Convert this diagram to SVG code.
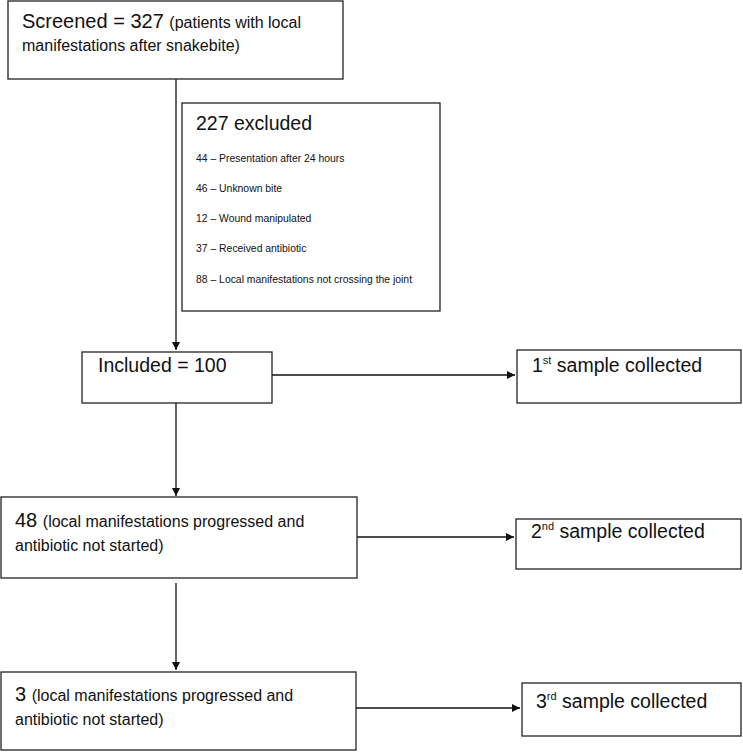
<svg xmlns="http://www.w3.org/2000/svg" width="743" height="753" viewBox="0 0 743 753">
<style>
.box{fill:#fff;stroke:#222;stroke-width:1.3}
.t{font-family:"Liberation Sans",Arial,sans-serif;fill:#111}
.big{font-size:20px}
.med{font-size:16px}
.sm{font-size:10.4px}
.hd{font-size:19.5px}
.sup{font-size:11px}
.ln{stroke:#111;stroke-width:1.3;fill:none}
</style>
<defs>
<marker id="ah" viewBox="0 0 10 10" refX="10" refY="5" markerWidth="8" markerHeight="8" markerUnits="userSpaceOnUse" orient="auto">
<path d="M0,0 L10,5 L0,10 Z" fill="#111"/>
</marker>
</defs>
<rect width="743" height="753" fill="#fff"/>
<g id="connectors">
<line class="ln" x1="176" y1="79" x2="176" y2="350" marker-end="url(#ah)"/>
<line class="ln" x1="176" y1="403" x2="176" y2="496" marker-end="url(#ah)"/>
<line class="ln" x1="176" y1="583" x2="176" y2="670" marker-end="url(#ah)"/>
<line class="ln" x1="272" y1="375" x2="515" y2="375" marker-end="url(#ah)"/>
<line class="ln" x1="357" y1="537" x2="514" y2="537" marker-end="url(#ah)"/>
<line class="ln" x1="356" y1="708" x2="520" y2="708" marker-end="url(#ah)"/>
</g>
<g id="screened">
<rect class="box" x="8" y="1" width="335" height="78"/>
<text class="t" x="22" y="28"><tspan class="big">Screened = 327 </tspan><tspan class="med">(patients with local</tspan></text>
<text class="t med" x="22" y="51">manifestations after snakebite)</text>
</g>
<g id="excluded">
<rect class="box" x="182" y="103" width="258" height="208"/>
<text class="t hd" x="196" y="130">227 excluded</text>
<text class="t sm" x="196" y="162">44 – Presentation after 24 hours</text>
<text class="t sm" x="196" y="192">46 – Unknown bite</text>
<text class="t sm" x="196" y="222">12 – Wound manipulated</text>
<text class="t sm" x="196" y="252">37 – Received antibiotic</text>
<text class="t sm" x="196" y="283">88 – Local manifestations not crossing the joint</text>
</g>
<g id="included">
<rect class="box" x="82" y="352" width="190" height="51"/>
<text class="t hd" x="98" y="372">Included = 100</text>
</g>
<g id="sample1">
<rect class="box" x="517" y="350" width="224" height="53"/>
<text class="t hd" x="532" y="372">1<tspan class="sup" dy="-8">st</tspan><tspan dy="8"> sample collected</tspan></text>
</g>
<g id="progressed48">
<rect class="box" x="1" y="497" width="356" height="81"/>
<text class="t" x="15" y="527"><tspan class="big">48 </tspan><tspan class="med">(local manifestations progressed and</tspan></text>
<text class="t med" x="15" y="551">antibiotic not started)</text>
</g>
<g id="sample2">
<rect class="box" x="516" y="519" width="225" height="50"/>
<text class="t hd" x="531" y="538">2<tspan class="sup" dy="-8">nd</tspan><tspan dy="8"> sample collected</tspan></text>
</g>
<g id="progressed3">
<rect class="box" x="1" y="672" width="355" height="78"/>
<text class="t" x="15" y="701"><tspan class="big">3 </tspan><tspan class="med">(local manifestations progressed and</tspan></text>
<text class="t med" x="15" y="725">antibiotic not started)</text>
</g>
<g id="sample3">
<rect class="box" x="522" y="683" width="219" height="53"/>
<text class="t hd" x="536" y="708">3<tspan class="sup" dy="-8">rd</tspan><tspan dy="8"> sample collected</tspan></text>
</g>
</svg>
